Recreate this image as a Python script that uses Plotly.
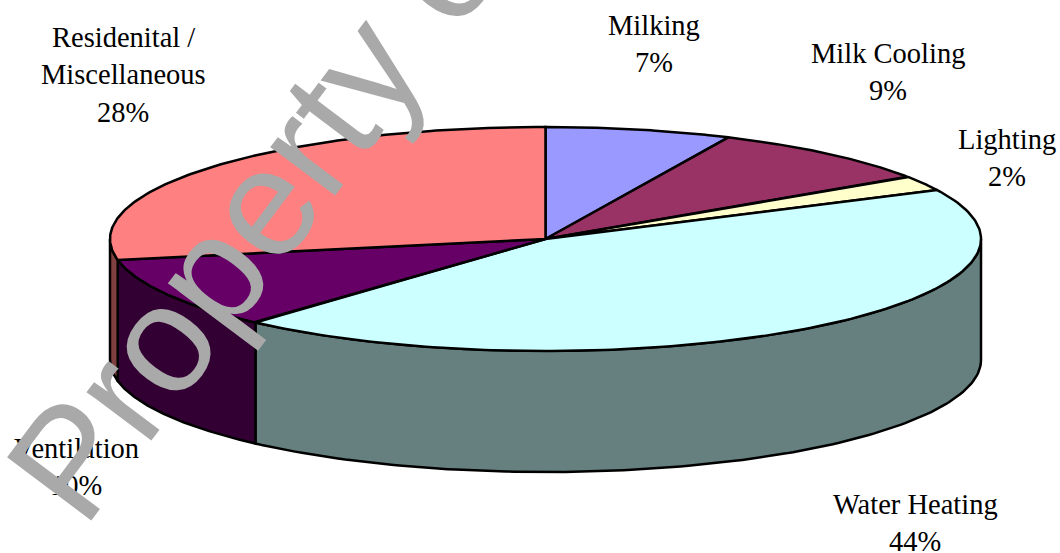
import numpy as np
import plotly.graph_objects as go

categories = ["Milking", "Milk Cooling", "Lighting", "Water Heating", "Ventilation", "Residenital / Miscellaneous"]
values = [6.9, 8.7, 2.2, 43.8, 10.4, 28.0]
percent_labels = ["7%", "9%", "2%", "44%", "10%", "28%"]
top_colors = ["#9999FF", "#993366", "#FFFFCC", "#CCFFFF", "#660066", "#FF8080"]
side_colors = ["#4C4C80", "#4C1A33", "#808066", "#668080", "#330033", "#804040"]
label_lines = [
    ["Milking", "7%"], ["Milk Cooling", "9%"], ["Lighting", "2%"],
    ["Water Heating", "44%"], ["Ventilation", "10%"],
    ["Residenital /", "Miscellaneous", "28%"],
]
label_x = [654, 888, 1007, 915, 76, 123]
label_y = [25, 53, 139, 504, 448, 37]

CX, CY, RX, RY, DEPTH = 545.5, 239, 435.5, 112, 121
LINE_H = 37.5

def pt(theta, dy=0):
    return CX + RX * np.sin(theta), CY + dy - RY * np.cos(theta)

fig = go.Figure()
edges = np.cumsum([0] + values) / sum(values) * 2 * np.pi

# side walls (only the part facing the viewer)
for i, c in enumerate(categories):
    a, b = max(edges[i], np.pi / 2), min(edges[i + 1], 3 * np.pi / 2)
    if b <= a:
        continue
    t = np.linspace(a, b, 120)
    x1, y1 = pt(t)
    x2, y2 = pt(t[::-1], DEPTH)
    fig.add_trace(go.Scatter(x=np.r_[x1, x2, x1[0]], y=np.r_[y1, y2, y1[0]], mode="lines", fill="toself",
                             fillcolor=side_colors[i], line=dict(color="black", width=2.5), name=c + " side"))

# top slices
for i, c in enumerate(categories):
    t = np.linspace(edges[i], edges[i + 1], 160)
    x, y = pt(t)
    fig.add_trace(go.Scatter(x=np.r_[CX, x, CX], y=np.r_[CY, y, CY], mode="lines", fill="toself",
                             fillcolor=top_colors[i], line=dict(color="black", width=2.5), name=c))

ann = []
for lines, lx, ly in zip(label_lines, label_x, label_y):
    for j, s in enumerate(lines):
        ann.append(dict(x=lx, y=ly + j * LINE_H, text=s, showarrow=False, xanchor="center", yanchor="middle",
                        font=dict(family="Liberation Serif", size=28.5, color="black")))
ann.append(dict(x=265, y=199, text="Property of", showarrow=False, textangle=-53.1, xanchor="center", yanchor="middle",
                font=dict(family="Liberation Sans", size=153, color="#A9A9A9")))

fig.update_layout(
    width=1060, height=553, margin=dict(l=0, r=0, t=0, b=0), showlegend=False,
    paper_bgcolor="white", plot_bgcolor="white", hovermode=False, annotations=ann,
    xaxis=dict(range=[0, 1060], visible=False, fixedrange=True),
    yaxis=dict(range=[553, 0], visible=False, fixedrange=True),
)
fig.write_html("out.html", post_script="document.body.style.margin='0';", config={"displayModeBar": False})
